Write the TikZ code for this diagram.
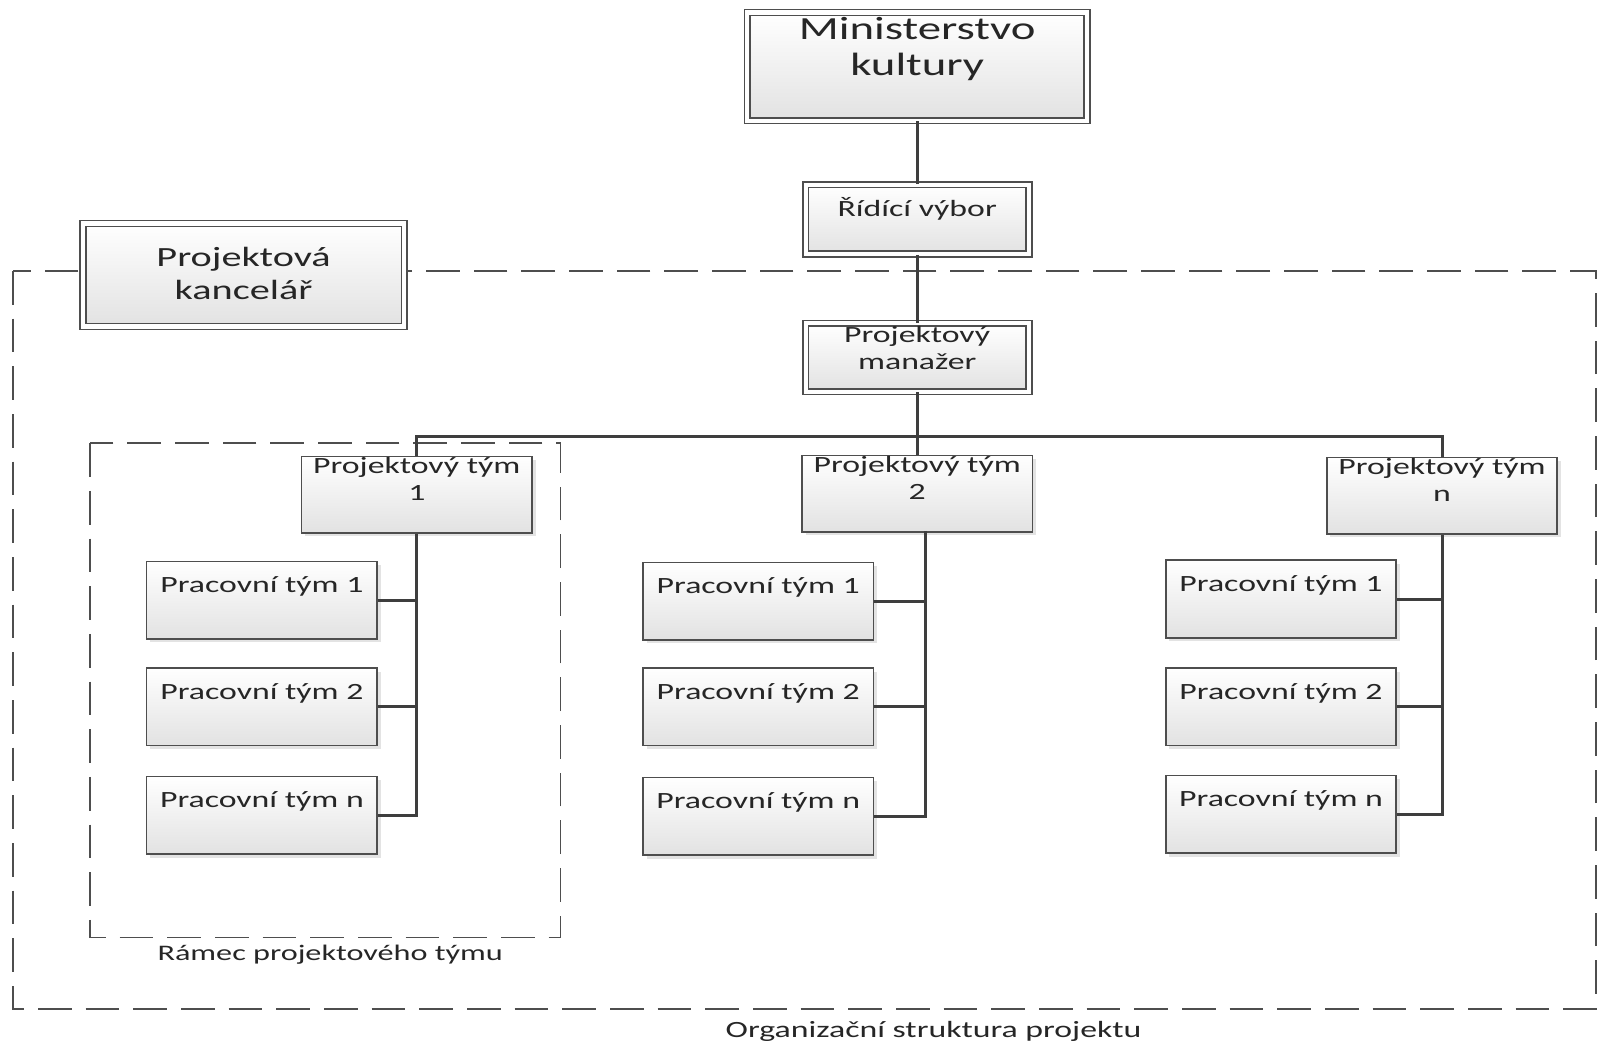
\documentclass[tikz,border=0pt]{standalone}
\usepackage{fontspec}
\setmainfont[FakeStretch=1.45]{Carlito}
\usepackage{xcolor}
\definecolor{boxline}{RGB}{78,78,78}
\definecolor{boxfill}{RGB}{226,226,226}
\definecolor{wire}{RGB}{62,62,62}
\definecolor{ink}{RGB}{38,38,38}
\usetikzlibrary{positioning, shadows}
\tikzstyle{Box} = [
draw=boxline, line width=0.45pt,
top color=white, bottom color=boxfill,
drop shadow={shadow xshift=0.035cm, shadow yshift=-0.035cm, opacity=0.22},
inner sep=0pt, anchor=north]
\tikzstyle{Double} = [Box, double=white, double distance=0.04cm]
\tikzstyle{Wire} = [wire, line width=0.85pt]
\tikzstyle{Frame} = [boxline, line width=0.5pt, dash pattern=on 9.4pt off 3.9pt]
\newcommand{\boxtext}[4]{\begin{minipage}[c][#2][t]{#1}\centering\vspace*{#3}#4\end{minipage}}

\begin{document}
\begin{tikzpicture}[x=0.01cm, y=-0.01cm, font=\fontsize{6.5pt}{7.4pt}\selectfont, text=ink]
    \useasboundingbox (0,0) rectangle (1568,1025);
    \draw[Frame] (13,266) rectangle (1566,990);
    \draw[Frame] (88,435) rectangle (550,920);

    \node[Double, font=\fontsize{9pt}{10.2pt}\selectfont] (1) at (900,11.5) {\boxtext{3.33cm}{1.06cm}{0.045cm}{Ministerstvo\\kultury}};
    \node[Double] (2) at (900,180.5) {\boxtext{2.19cm}{0.68cm}{0.125cm}{Řídící výbor}};
    \node[Double, font=\fontsize{7.75pt}{9.1pt}\selectfont] (3) at (239,218.5) {\boxtext{3.15cm}{1.01cm}{0.235cm}{Projektová\\kancelář}};
    \node[Double] (4) at (900,316.5) {\boxtext{2.19cm}{0.67cm}{0.03cm}{Projektový\\manažer}};

    \node[Box] (5) at (409,447) {\boxtext{2.26cm}{0.75cm}{0.01cm}{Projektový tým\\1}};
    \node[Box] (6) at (900,446) {\boxtext{2.26cm}{0.75cm}{0.01cm}{Projektový tým\\2}};
    \node[Box] (7) at (1415,448) {\boxtext{2.26cm}{0.75cm}{0.01cm}{Projektový tým\\n}};

    \node[Box] (5a) at (257,550) {\boxtext{2.26cm}{0.76cm}{0.15cm}{Pracovní tým 1}};
    \node[Box, below=0.27cm of 5a] (5b) {\boxtext{2.26cm}{0.76cm}{0.15cm}{Pracovní tým 2}};
    \node[Box, below=0.29cm of 5b] (5c) {\boxtext{2.26cm}{0.76cm}{0.15cm}{Pracovní tým n}};

    \node[Box] (6a) at (744,551) {\boxtext{2.26cm}{0.76cm}{0.15cm}{Pracovní tým 1}};
    \node[Box, below=0.26cm of 6a] (6b) {\boxtext{2.26cm}{0.76cm}{0.15cm}{Pracovní tým 2}};
    \node[Box, below=0.30cm of 6b] (6c) {\boxtext{2.26cm}{0.76cm}{0.15cm}{Pracovní tým n}};

    \node[Box] (7a) at (1257,549) {\boxtext{2.26cm}{0.76cm}{0.15cm}{Pracovní tým 1}};
    \node[Box, below=0.28cm of 7a] (7b) {\boxtext{2.26cm}{0.76cm}{0.15cm}{Pracovní tým 2}};
    \node[Box, below=0.28cm of 7b] (7c) {\boxtext{2.26cm}{0.76cm}{0.15cm}{Pracovní tým n}};

    \node[font=\fontsize{6.2pt}{7.4pt}\selectfont] (ramec) at (324,937) {Rámec projektového týmu};
    \node (org) at (916,1012) {Organizační struktura projektu};

    \coordinate (bus) at (900,428);
    \coordinate (6s) at (908,521);
    \draw[Wire] (1) -- (2);
    \draw[Wire] (2) -- (4);
    \draw[Wire] (4) -- (6);
    \draw[Wire] (5.north) |- (bus) -| (7.north);
    \draw[Wire] (5.south) |- (5c.east) (5a.east) -- (5a.east -| 5.south) (5b.east) -- (5b.east -| 5.south);
    \draw[Wire] (6s) |- (6c.east) (6a.east) -- (6a.east -| 6s) (6b.east) -- (6b.east -| 6s);
    \draw[Wire] (7.south) |- (7c.east) (7a.east) -- (7a.east -| 7.south) (7b.east) -- (7b.east -| 7.south);
\end{tikzpicture}
\end{document}
